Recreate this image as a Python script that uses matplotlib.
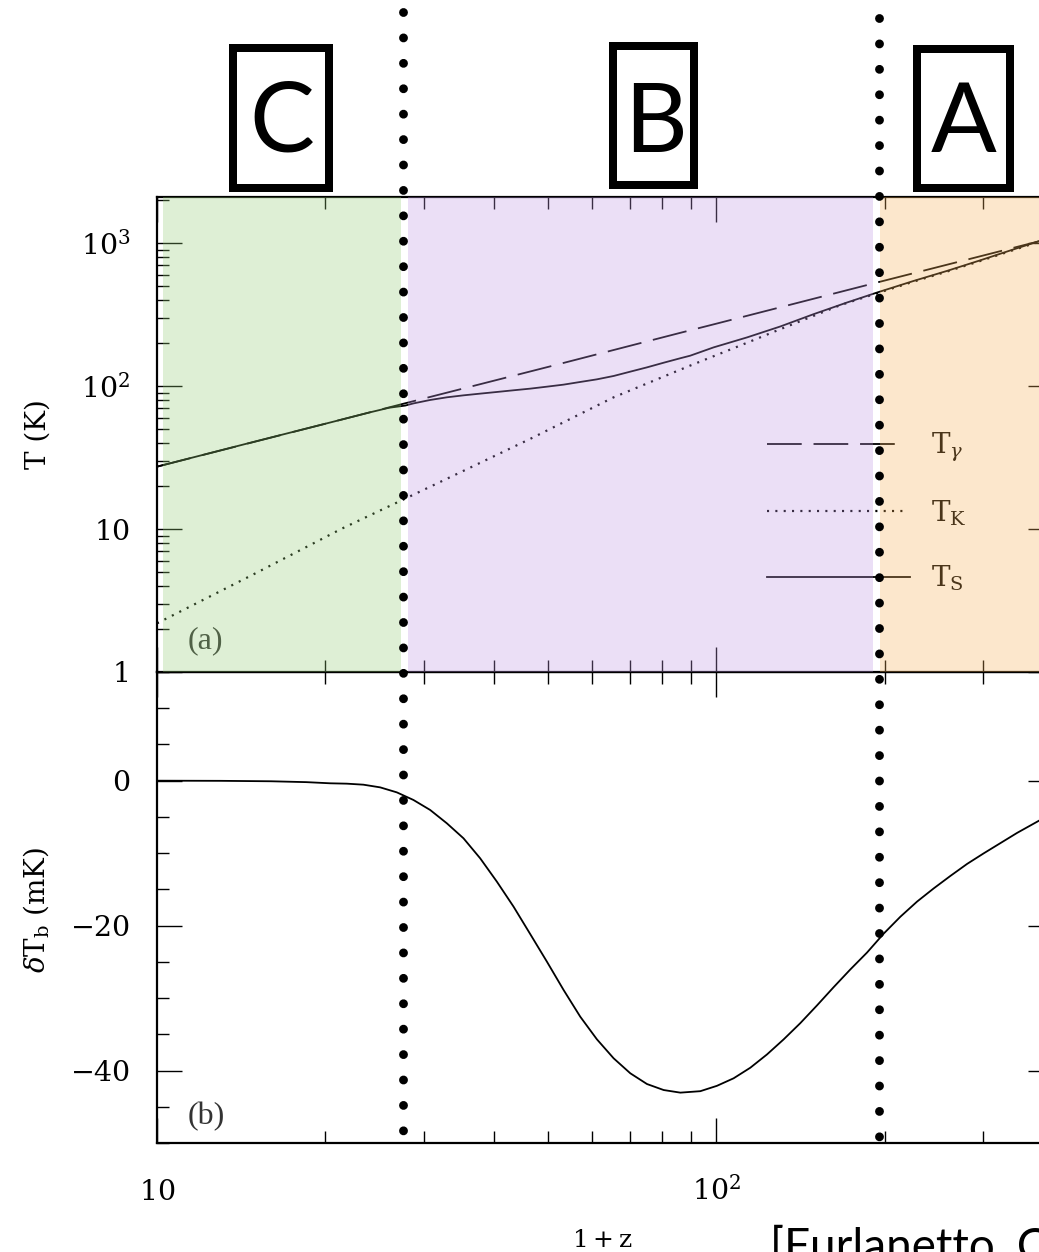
import matplotlib
matplotlib.use('Agg')
import matplotlib.pyplot as plt
from matplotlib.ticker import FixedLocator, FixedFormatter, MultipleLocator, NullFormatter
from matplotlib.patches import Rectangle
from matplotlib.transforms import blended_transform_factory

# ---------------- data ----------------
# photon temperature T_gamma
z_gamma = [10, 20, 27.5, 50, 86, 100, 192, 300, 400]
T_gamma = [27.3, 54.5, 75, 136, 235, 273, 525, 818, 1090]

# kinetic temperature T_K
z_kin = [10, 15, 21.4, 28.16, 35, 46.48, 65.53, 89.8, 110, 130.2, 150, 166.7, 194,
         225.5, 258.6, 296.7, 340.4, 378.4, 400]
T_kin = [2.19, 4.9, 10.06, 16.73, 25.1, 42.7, 83.4, 139, 191, 250, 312, 368, 446,
         538, 632, 750, 895, 1025, 1080]

# spin temperature T_S
z_spin = [10, 15, 20.4, 24, 26, 27.78, 28.74, 30.79, 32.98, 35.32, 37.83, 40.52, 43.40,
          46.48, 49.79, 53.33, 57.12, 61.17, 65.53, 70.19, 75.17, 80.52, 86.24, 89.8,
          98.9, 113.5, 130.2, 149.3, 171.3, 193.9, 225.5, 258.6, 296.7, 340.4, 378.4, 400]
T_spin = [27.3, 41, 55.6, 65.4, 70.5, 73.0, 75.6, 79.9, 83.4, 86.1, 88.5, 90.9, 93.4,
          95.9, 99.0, 102.3, 106.8, 111.4, 117.6, 126.1, 135.1, 145.6, 156.5, 163.0,
          186.4, 218.9, 261.1, 318.3, 384.0, 451.0, 543.9, 638.9, 758.2, 904.5, 1034, 1090]

# brightness temperature dT_b (mK)
z_tb = [10, 13, 16, 18.5, 20.40, 21.84, 23.39, 25.06, 26.84, 28.74, 30.79, 32.98, 35.32,
        37.83, 40.52, 43.40, 46.48, 49.79, 53.33, 57.12, 61.17, 65.53, 70.19, 75.17,
        80.52, 86.24, 93.63, 100.27, 107.4, 115.05, 123.21, 131.96, 141.33, 151.4, 162.1,
        173.6, 186.0, 199.2, 213.4, 228.6, 244.8, 262.2, 280.9, 300.8, 322.2, 345.1,
        378.4, 400]
dT_b = [0.0, -0.02, -0.08, -0.2, -0.36, -0.41, -0.55, -0.92, -1.61, -2.66, -4.04, -5.88,
        -7.95, -10.71, -13.93, -17.38, -21.16, -24.97, -28.88, -32.57, -35.69, -38.31,
        -40.38, -41.86, -42.69, -43.05, -42.85, -42.11, -41.07, -39.61, -37.78, -35.70,
        -33.46, -31.01, -28.5, -26.06, -23.72, -21.11, -18.77, -16.68, -14.86, -13.14,
        -11.48, -10.02, -8.61, -7.20, -5.48, -4.6]

# epoch regions (1+z) and boundaries
region_names = ['C', 'B', 'A']
region_spans = [(10.25, 27.31), (28.1, 191.0), (196.6, 400)]
region_colors = ['#94cd76', '#c098e4', '#f8b258']
boundaries = [27.54, 195.7]

# axis ticks
x_major = [10, 100]
x_major_labels = [r'$\mathregular{10}$', r'$\mathregular{10^{2}}$']
x_minor = [20, 30, 40, 50, 60, 70, 80, 90, 200, 300]
yT_major = [1, 10, 100, 1000]
yT_labels = ['1', '10', r'$\mathregular{10^{2}}$', r'$\mathregular{10^{3}}$']
yT_minor = [m * d for d in (1, 10, 100) for m in range(2, 10)] + [2000]

# ---------------- figure ----------------
plt.rcParams['font.family'] = ['DejaVu Serif']
plt.rcParams['mathtext.fontset'] = 'dejavuserif'
plt.rcParams['lines.scale_dashes'] = False

W, H = 1039, 1252
fig = plt.figure(figsize=(W / 100, H / 100), dpi=100)


def fx(px):
    return px / W


def fy(py):
    return 1 - py / H


ax1 = fig.add_axes([fx(157), fy(672), (1053 - 157) / W, (672 - 197) / H])
ax2 = fig.add_axes([fx(157), fy(1143), (1053 - 157) / W, (1143 - 672) / H])
ax1.set_zorder(2)
ax2.set_zorder(1)

for ax in (ax1, ax2):
    ax.set_xscale('log')
    ax.set_xlim(10, 400)
    ax.xaxis.set_major_locator(FixedLocator(x_major))
    ax.xaxis.set_minor_locator(FixedLocator(x_minor))
    ax.xaxis.set_minor_formatter(NullFormatter())
    ax.tick_params(which='both', direction='in', top=True, right=True, width=1.0,
                   color='black', labelsize=20.5)
    ax.tick_params(which='major', length=18)
    ax.tick_params(which='minor', length=8.6)
    ax.tick_params(axis='y', pad=19)
    for s in ax.spines.values():
        s.set_linewidth(1.6)

# ---- top panel: temperatures ----
ax1.set_yscale('log')
ax1.set_ylim(1, 2100)
ax1.yaxis.set_major_locator(FixedLocator(yT_major))
ax1.yaxis.set_major_formatter(FixedFormatter(yT_labels))
ax1.yaxis.set_minor_locator(FixedLocator(yT_minor))
ax1.yaxis.set_minor_formatter(NullFormatter())
ax1.tick_params(axis='x', labelbottom=False)

ax1.plot(z_spin, T_spin, color='black', lw=1.3)
ax1.plot(z_kin, T_kin, color='black', lw=1.6, dashes=(1.5, 4.5))
ax1.plot(z_gamma, T_gamma, color='black', lw=1.3, dashes=(25, 8.5))

# legend (manual)
ax1.plot([0.6808, 0.8326], [0.480, 0.480], transform=ax1.transAxes, color='black', lw=1.3,
         dashes=(25, 8.5))
ax1.plot([0.6808, 0.8370], [0.3396, 0.3396], transform=ax1.transAxes, color='black', lw=1.6,
         dashes=(1.5, 4.5))
ax1.plot([0.6808, 0.8404], [0.2006, 0.2006], transform=ax1.transAxes, color='black', lw=1.3)
ax1.text(0.8638, 0.459, r'$\mathrm{T}_{\gamma}$', transform=ax1.transAxes, fontsize=20, va='baseline')
ax1.text(0.8638, 0.3158, r'$\mathrm{T}_{\mathrm{K}}$', transform=ax1.transAxes, fontsize=20, va='baseline')
ax1.text(0.8638, 0.179, r'$\mathrm{T}_{\mathrm{S}}$', transform=ax1.transAxes, fontsize=20, va='baseline')
ax1.text(0.0346, 0.0505, '(a)', transform=ax1.transAxes, fontsize=23, family='Liberation Serif',
         va='baseline', color='#333333')

# coloured epoch overlays
for (x0, x1), c in zip(region_spans, region_colors):
    ax1.axvspan(x0, x1, color=c, alpha=0.3, lw=0, zorder=5)

# ---- bottom panel: brightness temperature ----
ax2.set_ylim(-50, 15)
ax2.yaxis.set_major_locator(MultipleLocator(20))
ax2.yaxis.set_minor_locator(MultipleLocator(5))
ax2.xaxis.set_major_formatter(FixedFormatter(x_major_labels))
ax2.tick_params(axis='x', pad=41)
ax2.plot(z_tb, dT_b, color='black', lw=1.3)
ax2.text(0.0346, 0.0403, '(b)', transform=ax2.transAxes, fontsize=23, family='Liberation Serif',
         va='baseline', color='#333333')
for lab in ax2.get_xticklabels():
    lab.set_va('baseline')

# ---- vertical dotted epoch boundaries (drawn from the top down) ----
btrans = blended_transform_factory(ax1.transData, ax1.transAxes)
for xb, (ytop, ybot) in zip(boundaries, [(1.3888, -0.976), (1.3762, -0.99)]):
    ax1.plot([xb, xb], [ytop, ybot], transform=btrans, clip_on=False, color='black', lw=6.4,
             dashes=(0.01, 18.29), dash_capstyle='round', zorder=10)

# ---- axis labels ----
fig.text(fx(38), fy(434), 'T (K)', rotation=90, ha='center', va='center', fontsize=20)
fig.text(fx(36), fy(910), r'$\delta\mathrm{T}_{\mathrm{b}}$ (mK)', rotation=90, ha='center',
         va='center', fontsize=20)
fig.text(fx(602), fy(1247), r'$\mathregular{1+z}$', ha='center', va='baseline', fontsize=18)

# ---- epoch letters in boxes ----
letter_x = [282, 656, 964]
boxes = [(233, 48, 329, 188), (613, 46, 694, 185), (917, 49, 1010, 188)]
for name, lx, (bx0, by0, bx1, by1) in zip(region_names, letter_x, boxes):
    fig.text(fx(lx), fy(152), name, family='Lato', fontsize=70, ha='center', va='baseline')
    fig.add_artist(Rectangle((fx(bx0), fy(by1)), (bx1 - bx0) / W, (by1 - by0) / H,
                             transform=fig.transFigure, fill=False, lw=5.76, ec='black',
                             joinstyle='miter'))

# ---- citation (cropped at the right/bottom edge as in the reference) ----
fig.text(fx(770), fy(1261), '[Furlanetto, Oh & Briggs 2006]', family='Lato', fontsize=33,
         va='baseline')

fig.savefig('out.png', dpi=100)
